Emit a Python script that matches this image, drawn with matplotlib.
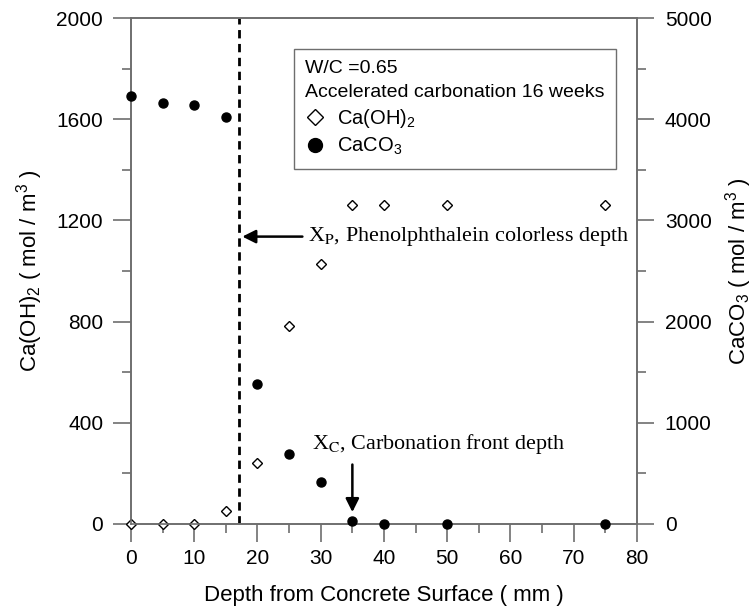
import matplotlib
matplotlib.use("Agg")
import matplotlib.pyplot as plt
from matplotlib.lines import Line2D

plt.rcParams['font.family'] = ['Liberation Sans', 'DejaVu Sans']
plt.rcParams['mathtext.fontset'] = 'custom'
plt.rcParams['mathtext.rm'] = 'Liberation Sans'
plt.rcParams['mathtext.it'] = 'Liberation Sans:italic'
plt.rcParams['mathtext.bf'] = 'Liberation Sans:bold'

# data
depth_oh = [0, 5, 10, 15, 20, 25, 30, 35, 40, 50, 75]
caoh2 = [0, 0, 0, 51, 240, 784, 1028, 1261, 1261, 1261, 1261]
depth_co3 = [0, 5, 10, 15, 20, 25, 30, 35, 40, 50, 75]
caco3 = [4232, 4163, 4140, 4018, 1383, 689, 415, 30, 0, 0, 0]
xp_depth = 17
xc_depth = 35

gray = '#6e6e6e'

fig = plt.figure(figsize=(7.55, 6.13), dpi=100)
ax = fig.add_axes([0.1735, 0.1452, 0.6702, 0.8254])
ax2 = ax.twinx()

ax.plot(depth_oh, caoh2, linestyle='none', marker='D', ms=5, mfc='white',
        mec='black', mew=1, clip_on=False, zorder=3)
ax2.plot(depth_co3, caco3, linestyle='none', marker='o', ms=6.5, mfc='black',
         mec='black', clip_on=False, zorder=3)

ax.axvline(xp_depth, color='black', lw=2, linestyle=(0, (3, 2)))

ax.set_xlim(0, 80)
ax.set_ylim(0, 2000)
ax2.set_ylim(0, 5000)
ax.set_xticks(range(0, 81, 10))
ax.set_xticks(range(5, 80, 10), minor=True)
ax.set_yticks(range(0, 2001, 400))
ax.set_yticks(range(200, 2000, 400), minor=True)
ax2.set_yticks(range(0, 5001, 1000))
ax2.set_yticks(range(500, 5000, 1000), minor=True)

for a in (ax, ax2):
    for s in a.spines.values():
        s.set_color(gray)
        s.set_linewidth(1.2)
ax.tick_params(which='both', direction='out', color=gray, width=1.2,
               labelsize=15, top=False)
ax.tick_params(which='major', length=13)
ax.tick_params(which='minor', length=6.5)
ax.tick_params(axis='y', pad=7)
ax.tick_params(axis='x', pad=5)
ax2.tick_params(which='both', direction='out', color=gray, width=1.2,
                labelsize=15, pad=8)
ax2.tick_params(which='major', length=12)
ax2.tick_params(which='minor', length=6.5)

ax.set_xlabel('Depth from Concrete Surface ( mm )', fontsize=16, labelpad=12)
ax.set_ylabel('Ca(OH)$_2$ ( mol / m$^3$ )', fontsize=16, labelpad=8)
ax2.set_ylabel('CaCO$_3$ ( mol / m$^3$ )', fontsize=16, labelpad=8)

# annotations
serif = ['Liberation Serif', 'DejaVu Serif']
ax.annotate('', xy=(17.6, 1136), xytext=(27.1, 1136),
            arrowprops=dict(arrowstyle='-|>', color='black', lw=1.8,
                            mutation_scale=20, shrinkA=0, shrinkB=0))
ax.text(28.0, 1136, r'X$_{\mathrm{P}}$, Phenolphthalein colorless depth',
        family=serif, math_fontfamily='stix', fontsize=15.9,
        ha='left', va='center')
ax.annotate('', xy=(xc_depth, 47), xytext=(xc_depth, 235),
            arrowprops=dict(arrowstyle='-|>', color='black', lw=1.8,
                            mutation_scale=20, shrinkA=0, shrinkB=0))
ax.text(28.6, 318, r'X$_{\mathrm{C}}$, Carbonation front depth',
        family=serif, math_fontfamily='stix', fontsize=15.9,
        ha='left', va='center')

handles = [
    Line2D([], [], linestyle='none', marker='D', ms=8, mfc='white',
           mec='black', mew=1),
    Line2D([], [], linestyle='none', marker='o', ms=10, mfc='black',
           mec='black'),
]
leg = ax2.legend(handles, ['Ca(OH)$_2$', 'CaCO$_3$'],
                 title='W/C =0.65\nAccelerated carbonation 16 weeks',
                 alignment='left', loc='upper left',
                 bbox_to_anchor=(0.322, 0.939), fontsize=14.5,
                 title_fontsize=14, frameon=True, fancybox=False,
                 edgecolor=gray, framealpha=1, borderpad=0.55,
                 handlelength=1.0, handletextpad=0.6, labelspacing=0.3,
                 borderaxespad=0)
leg.get_title().set_linespacing(1.55)
leg.get_frame().set_linewidth(1.0)

fig.savefig('out.png', dpi=100)
